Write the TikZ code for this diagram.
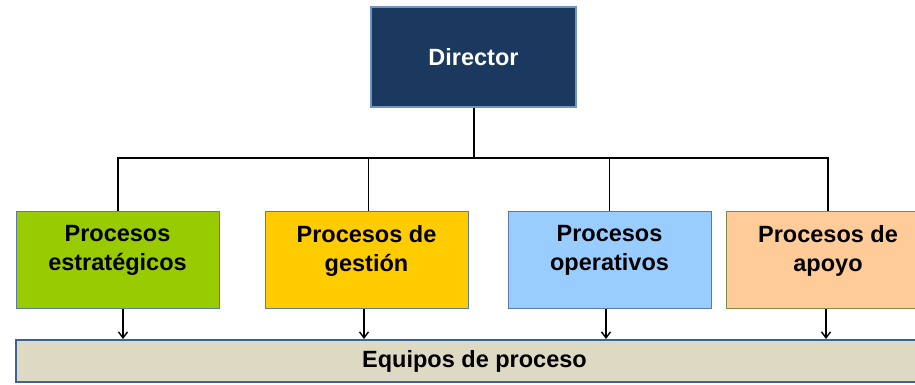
\documentclass[tikz,border=0pt]{standalone}
\usepackage{fontspec}
\setmainfont{Liberation Sans}
\usetikzlibrary{arrows.meta}
\definecolor{dirfill}{HTML}{1B385E}
\definecolor{dirdraw}{HTML}{7393C2}
\definecolor{gfill}{HTML}{99CC00}
\definecolor{yfill}{HTML}{FFCC00}
\definecolor{bfill}{HTML}{99CCFF}
\definecolor{ofill}{HTML}{FFCC99}
\definecolor{barfill}{HTML}{DDD9C3}
\definecolor{blueline}{HTML}{5B7BA6}
\definecolor{oliveline}{HTML}{7F8A4A}
\definecolor{barline}{HTML}{3F6294}
\begin{document}
\begin{tikzpicture}[x=1pt,y=-1pt,
  txt/.style={font=\bfseries\fontsize{23.5}{28.5}\selectfont, align=center, inner sep=0pt},
  pbox/.style={draw=#1, line width=1pt, minimum width=203pt, minimum height=97pt, inner sep=0pt},
  conn/.style={line width=2pt, black},
  thinconn/.style={line width=1pt, black},
  arr/.style={line width=1.4pt, black, -{Straight Barb[length=6pt,width=9pt,line width=1.4pt]}}]
\useasboundingbox (0,0) rectangle (915,385);

\node[draw=dirdraw, fill=dirfill, line width=1.2pt, minimum width=205pt, minimum height=100pt, inner sep=0pt,
      txt, text=white] (dir) at (473.5,57) {Director};

\node[pbox=blueline, fill=gfill] (b1) at (117.5,259.5) {};
\node[pbox=blueline, fill=yfill] (b2) at (366.5,259.5) {};
\node[pbox=blueline, fill=bfill] (b3) at (609.5,259.5) {};
\node[pbox=oliveline, fill=ofill] (b4) at (828,259.5) {};

\node[txt, anchor=north] (t1) at ([yshift=-15pt]b1.north) {Procesos\\estratégicos};
\node[txt, anchor=north] (t2) at ([yshift=-15pt]b2.north) {Procesos de\\gestión};
\node[txt, anchor=north] (t3) at ([yshift=-15pt]b3.north) {Procesos\\operativos};
\node[txt, anchor=north] (t4) at ([yshift=-15pt]b4.north) {Procesos de\\apoyo};

\node[draw=barline, fill=barfill, line width=2pt, minimum width=917pt, minimum height=42pt, inner sep=0pt,
      txt] (bar) at (474.5,361) {Equipos de proceso};

\coordinate (j) at (473.5,158);
\draw[conn] (dir.south) -- (j);
\draw[conn] ([xshift=0.5pt]b1.north) |- (j) -| (b4.north);
\draw[thinconn] ([xshift=1.5pt]b2.north) -- ([xshift=1.5pt]b2.north |- j);
\draw[thinconn] (b3.north) -- (b3.north |- j);

\draw[arr] ([xshift=5.5pt]b1.south) -- ([xshift=5.5pt]b1.south |- bar.north);
\draw[arr] ([xshift=-2.5pt]b2.south) -- ([xshift=-2.5pt]b2.south |- bar.north);
\draw[arr] ([xshift=-3.5pt]b3.south) -- ([xshift=-3.5pt]b3.south |- bar.north);
\draw[arr] ([xshift=-2pt]b4.south) -- ([xshift=-2pt]b4.south |- bar.north);
\end{tikzpicture}
\end{document}
